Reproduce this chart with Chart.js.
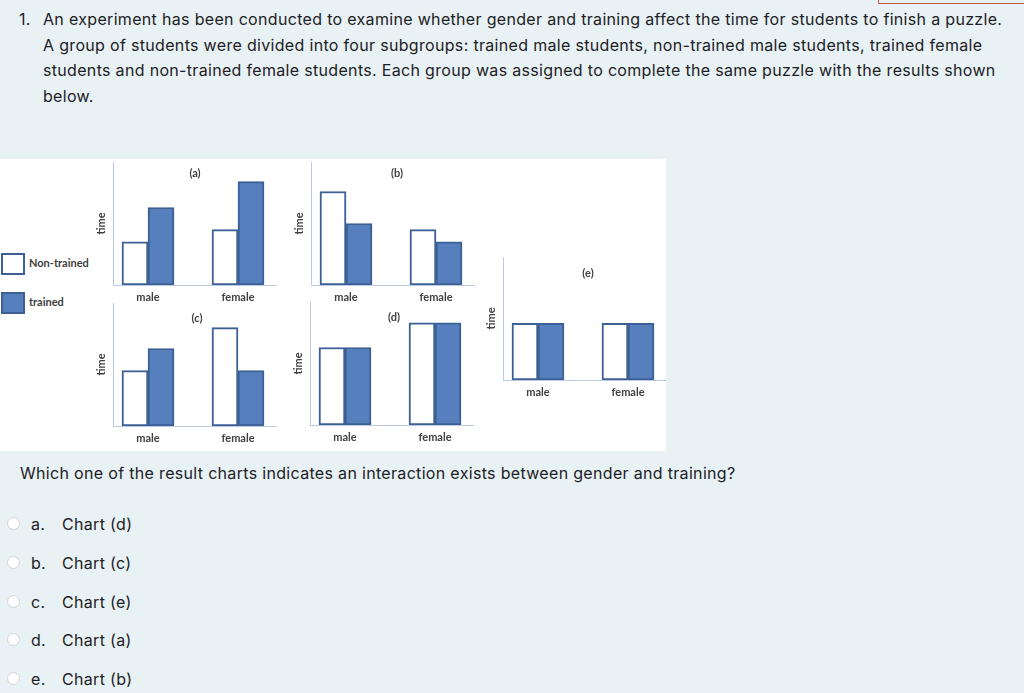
<!DOCTYPE html>
<html><head><meta charset="utf-8">
<script src="https://cdn.jsdelivr.net/npm/chart.js@4.4.1/dist/chart.umd.min.js"></script>
<style>
html,body{margin:0;padding:0;}
body{width:1024px;height:693px;background:#e8f1f4;position:relative;overflow:hidden;font-family:Inter,"Noto Sans",sans-serif;color:#1d2125;}
.ln{position:absolute;font-size:16px;letter-spacing:0.32px;white-space:nowrap;line-height:20px;}
.panel{position:absolute;left:0;top:159px;width:666px;height:292px;background:#fff;overflow:hidden;}
canvas.c{position:absolute;}
.lg{position:absolute;left:29px;font:bold 11px Lato,sans-serif;color:#404040;line-height:12px;}
.lbox{position:absolute;left:1px;width:20px;height:18px;border:2px solid #3c5f95;}
.radio{position:absolute;left:7px;width:13px;height:13px;border-radius:50%;background:#fff;border:1px solid #d0d4d6;box-sizing:border-box;}
.redbox{position:absolute;left:878px;top:-10px;width:200px;height:12px;border:1px solid #c4574a;}
</style></head>
<body>
<div class="redbox"></div>
<div class="ln" style="left:19px;top:9px;">1.</div>
<div class="ln" style="left:43px;top:9px;">An experiment has been conducted to examine whether gender and training affect the time for students to finish a puzzle.</div>
<div class="ln" style="left:43px;top:35px;">A group of students were divided into four subgroups: trained male students, non-trained male students, trained female</div>
<div class="ln" style="left:43px;top:60px;">students and non-trained female students. Each group was assigned to complete the same puzzle with the results shown</div>
<div class="ln" style="left:43px;top:86px;">below.</div>

<div class="panel" id="panel"></div>

<div class="ln" style="left:20px;top:463px;">Which one of the result charts indicates an interaction exists between gender and training?</div>

<div id="opts"></div>

<script>
// ---- data ----
const groups = ['male', 'female'];
const seriesNames = ['Non-trained', 'trained'];
const panelTitles = ['(a)', '(b)', '(c)', '(d)', '(e)'];
const nonTrainedA = [35, 45];
const trainedA    = [63, 84];
const nonTrainedB = [76, 45];
const trainedB    = [50, 35];
const nonTrainedC = [45, 80];
const trainedC    = [63, 45];
const nonTrainedD = [63, 83];
const trainedD    = [63, 83];
const nonTrainedE = [46, 46];
const trainedE    = [46, 46];
const optionLetters = ['a.', 'b.', 'c.', 'd.', 'e.'];
const optionTexts = ['Chart (d)', 'Chart (c)', 'Chart (e)', 'Chart (a)', 'Chart (b)'];

// ---- styles / layout ----
const AXIS_COLOR = '#bccbe3';
const NT_FILL = '#ffffff', T_FILL = '#5580bd', EDGE = '#3c5f95';
const LABEL_COLOR = '#404040';
const Y_AXIS_W = 20, X_AXIS_H = 26, PLOT_H = 123, PLOT_W = 164;
const PX_PER_UNIT = 90, FIRST_OFFSET = 35;
const PANEL_TOP = 159;

Chart.defaults.font.family = 'Lato, "Open Sans", sans-serif';
Chart.defaults.font.size = 11;
Chart.defaults.font.weight = 'bold';
Chart.defaults.color = LABEL_COLOR;

const panelTitle = {
  id: 'panelTitle',
  afterDatasetsDraw(chart, args, opts) {
    const {ctx, chartArea} = chart;
    ctx.save();
    ctx.font = 'bold 11px Lato, sans-serif';
    ctx.fillStyle = LABEL_COLOR;
    ctx.textAlign = 'center';
    ctx.textBaseline = 'middle';
    ctx.fillText(opts.text, (chartArea.left + chartArea.right) / 2 + (opts.dx || 0), chartArea.top + opts.dy);
    ctx.restore();
  }
};

// legend
const panel = document.getElementById('panel');
[[NT_FILL, seriesNames[0], 253], [T_FILL, seriesNames[1], 292]].forEach(([fill, name, top]) => {
  const b = document.createElement('div');
  b.className = 'lbox';
  b.style.top = (top - PANEL_TOP) + 'px';
  b.style.background = fill;
  panel.appendChild(b);
  const t = document.createElement('div');
  t.className = 'lg';
  t.style.top = (top + 4 - PANEL_TOP) + 'px';
  t.textContent = name;
  panel.appendChild(t);
});

function makeChart(nt, tr, title, axisX, axisTop, titleDy, titleDx) {
  const cv = document.createElement('canvas');
  cv.className = 'c';
  const w = Y_AXIS_W + PLOT_W, h = PLOT_H + X_AXIS_H;
  cv.width = w; cv.height = h;
  cv.style.width = w + 'px'; cv.style.height = h + 'px';
  cv.style.left = (axisX - Y_AXIS_W) + 'px';
  cv.style.top = (axisTop - PANEL_TOP) + 'px';
  panel.appendChild(cv);
  const ds = (vals, fill, label) => ({
    label,
    data: vals.map((v, i) => ({x: i, y: v})),
    backgroundColor: fill,
    borderColor: EDGE,
    borderWidth: 2,
    borderSkipped: false,
    barThickness: 26
  });
  new Chart(cv, {
    type: 'bar',
    data: {datasets: [ds(nt, NT_FILL, seriesNames[0]), ds(tr, T_FILL, seriesNames[1])]},
    plugins: [panelTitle],
    options: {
      responsive: false,
      animation: false,
      layout: {padding: 0},
      plugins: {
        legend: {display: false},
        tooltip: {enabled: false},
        panelTitle: {text: title, dy: titleDy, dx: titleDx}
      },
      scales: {
        x: {
          type: 'linear',
          offset: false,
          bounds: 'data',
          min: -FIRST_OFFSET / PX_PER_UNIT,
          max: (PLOT_W - FIRST_OFFSET) / PX_PER_UNIT,
          grid: {display: false, drawTicks: false, offset: false},
          border: {display: true, color: AXIS_COLOR, width: 1},
          afterBuildTicks: s => { s.ticks = groups.map((g, i) => ({value: i})); },
          ticks: {callback: v => groups[v], maxRotation: 0, padding: 6, autoSkip: false},
          afterFit: s => { s.height = X_AXIS_H; }
        },
        y: {
          min: 0, max: 100,
          grid: {display: false, drawTicks: false},
          border: {display: true, color: AXIS_COLOR, width: 1},
          ticks: {display: false},
          title: {display: true, text: 'time', padding: {top: 2, bottom: 0}},
          afterFit: s => { s.width = Y_AXIS_W; }
        }
      }
    }
  });
}

makeChart(nonTrainedA, trainedA, panelTitles[0], 113, 162, 11, 0);
makeChart(nonTrainedB, trainedB, panelTitles[1], 311, 162, 11, 4);
makeChart(nonTrainedC, trainedC, panelTitles[2], 113, 303, 15, 2);
makeChart(nonTrainedD, trainedD, panelTitles[3], 310, 302, 15, 2);
makeChart(nonTrainedE, trainedE, panelTitles[4], 503, 257, 16, 3);

// answer options
const optsDiv = document.getElementById('opts');
const optY = [524, 563, 602, 640, 679];
optionTexts.forEach((txt, i) => {
  const r = document.createElement('div');
  r.className = 'radio';
  r.style.top = (optY[i] - 7) + 'px';
  optsDiv.appendChild(r);
  const l = document.createElement('div');
  l.className = 'ln';
  l.style.left = '31px'; l.style.top = (optY[i] - 10) + 'px';
  l.textContent = optionLetters[i];
  optsDiv.appendChild(l);
  const t = document.createElement('div');
  t.className = 'ln';
  t.style.left = '62px'; t.style.top = (optY[i] - 10) + 'px';
  t.textContent = txt;
  optsDiv.appendChild(t);
});
</script>
</body></html>
